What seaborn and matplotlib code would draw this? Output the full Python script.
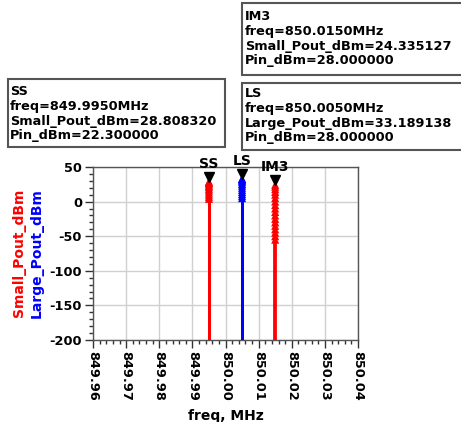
import numpy as np
import pandas as pd
import matplotlib
matplotlib.use("Agg")
import matplotlib.pyplot as plt
import matplotlib.transforms as mtransforms
from matplotlib.patches import Rectangle
from matplotlib.ticker import MultipleLocator, FixedLocator
import seaborn as sns

# ---- data ----
ss_freq = 849.995
ls_freq = 850.005
im3_freq = 850.015
ss_vals = [4.0, 7.0, 10.0, 13.0, 16.0, 18.5, 21.0, 23.0, 24.8, 26.3, 27.4, 28.2, 28.808320]
ls_vals = [5.0, 8.0, 11.0, 14.0, 17.0, 20.0, 23.0, 25.5, 28.0, 30.0, 31.5, 32.5, 33.189138]
im3_vals = [-55.0, -50.0, -45.0, -40.0, -35.0, -30.0, -25.0, -20.0, -15.0, -10.0, -5.0,
            0.0, 5.0, 10.0, 14.0, 18.0, 21.5, 24.335127]
xticks = [849.96, 849.97, 849.98, 849.99, 850.00, 850.01, 850.02, 850.03, 850.04]
xtick_labels = ["849.96", "849.97", "849.98", "849.99", "850.00", "850.01", "850.02", "850.03", "850.04"]
yticks = [-200, -150, -100, -50, 0, 50]
marker_names = ["SS", "LS", "IM3"]
marker_freqs = [849.995, 850.005, 850.015]
marker_vals = [28.808320, 33.189138, 24.335127]

sns.set_theme(style="white")
plt.rcParams['font.family'] = ['DejaVu Sans']
plt.rcParams['font.weight'] = 'bold'
plt.rcParams['text.color'] = 'black'
plt.rcParams['xtick.color'] = '#333333'
plt.rcParams['ytick.color'] = '#333333'
plt.rcParams['xtick.labelcolor'] = 'black'
plt.rcParams['ytick.labelcolor'] = 'black'
plt.rcParams['axes.labelcolor'] = 'black'

W, H = 461, 422
fig = plt.figure(figsize=(4.61, 4.22), dpi=100)
ax = fig.add_axes([93/W, 1-340/H, 265/W, 173/H])

df = pd.concat([
    pd.DataFrame({"freq": ss_freq, "val": ss_vals, "trace": "SS"}),
    pd.DataFrame({"freq": ls_freq, "val": ls_vals, "trace": "LS"}),
    pd.DataFrame({"freq": im3_freq, "val": im3_vals, "trace": "IM3"}),
])
colors = {"SS": "#ff0000", "LS": "#0000ff", "IM3": "#ff0000"}
lws = {"SS": 2.0, "LS": 2.0, "IM3": 1.6}

for name, g in df.groupby("trace"):
    ax.vlines(g["freq"], -200, g["val"], color=colors[name], lw=lws[name], zorder=3)

sns.scatterplot(data=df, x="freq", y="val", hue="trace", palette=colors,
                marker="^", s=34, linewidth=0, legend=False, ax=ax, zorder=4)

# marker triangles + labels
for name, f, v in zip(marker_names, marker_freqs, marker_vals):
    tr = mtransforms.offset_copy(ax.transData, fig=fig, x=0, y=3.3, units='points')
    ax.plot([f], [v], marker='v', color='black', markersize=7, transform=tr,
            clip_on=False, zorder=6, linestyle='none')
    tr2 = mtransforms.offset_copy(ax.transData, fig=fig, x=0, y=8, units='points')
    ax.text(f, v, name, transform=tr2, ha='center', va='bottom', fontsize=10,
            fontweight='bold', color='black', zorder=6, clip_on=False)

ax.set_xlim(849.96, 850.04)
ax.set_ylim(-200, 50)
ax.xaxis.set_major_locator(FixedLocator(xticks))
ax.set_xticklabels(xtick_labels, rotation=270, fontsize=9.3, fontweight='bold')
ax.xaxis.set_minor_locator(MultipleLocator(0.002))
ax.set_yticks(yticks)
ax.set_yticklabels([str(t) for t in yticks], fontsize=9.3, fontweight='bold')
ax.yaxis.set_minor_locator(MultipleLocator(10))
ax.tick_params(axis='both', which='major', direction='out', length=6, width=1, pad=2)
ax.tick_params(axis='both', which='minor', direction='out', length=3, width=1)
ax.tick_params(axis='x', which='both', bottom=True)
ax.tick_params(axis='y', which='both', left=True)
ax.grid(True, which='major', color='#d0d0d0', lw=1)
for s in ax.spines.values():
    s.set_color('#555555')
    s.set_linewidth(1)
    s.set_visible(True)
ax.set_xlabel("freq, MHz", fontsize=10, fontweight='bold', labelpad=6, color='black')
ax.set_ylabel("")

fig.text(19/W, 1-253/H, "Small_Pout_dBm", rotation=90, color='#ff0000',
         fontsize=10, fontweight='bold', ha='center', va='center')
fig.text(37/W, 1-253/H, "Large_Pout_dBm", rotation=90, color='#0000ff',
         fontsize=10, fontweight='bold', ha='center', va='center')

# marker readout boxes (pixel rectangles: x0, y0_top, x1, y1_bottom)
def readout(x0, y0, x1, y1, tx, ty, txt):
    fig.patches.append(Rectangle((x0/W, 1-y1/H), (x1-x0)/W, (y1-y0)/H,
                                 transform=fig.transFigure, fc='white',
                                 ec='#555555', lw=1.5))
    fig.text(tx/W, 1-ty/H, txt, ha='left', va='top', fontsize=9.3,
             fontweight='bold', linespacing=1.18, color='black')

readout(8, 79, 225, 147, 10, 85,
        "SS\nfreq=849.9950MHz\nSmall_Pout_dBm=28.808320\nPin_dBm=22.300000")
readout(242, 83, 475, 150, 245, 87,
        "LS\nfreq=850.0050MHz\nLarge_Pout_dBm=33.189138\nPin_dBm=28.000000")
readout(242, 3, 475, 75, 245, 10,
        "IM3\nfreq=850.0150MHz\nSmall_Pout_dBm=24.335127\nPin_dBm=28.000000")

fig.savefig("out.png", dpi=100)
